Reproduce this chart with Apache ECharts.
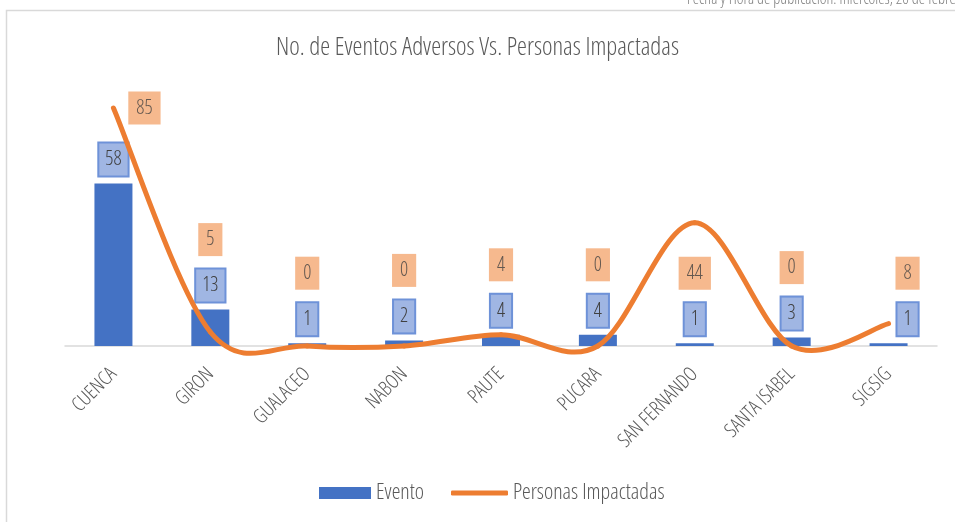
<!DOCTYPE html>
<html><head><meta charset="utf-8">
<script src="https://cdn.jsdelivr.net/npm/echarts@6/dist/echarts.min.js"></script>
<style>html,body{margin:0;padding:0;background:#fff}#c{width:955px;height:522px}</style>
</head><body><div id="c"></div>
<script>
var categories = ['CUENCA','GIRON','GUALACEO','NABON','PAUTE','PUCARA','SAN FERNANDO','SANTA ISABEL','SIGSIG'];
var eventos = [58, 13, 1, 2, 4, 4, 1, 3, 1];
var personas = [85, 5, 0, 0, 4, 0, 44, 0, 8];
var titleText = 'No. de Eventos Adversos Vs. Personas Impactadas';
var pubText = 'Fecha y Hora de publicación: miércoles, 26 de febrero';

var FONT = "'Open Sans',sans-serif";
var COND = 'condensed';
var yMax = 100, gridTop = 66, gridBottom = 176;
var k = (522 - gridTop - gridBottom) / yMax;
var n = personas.length;

var lblData = personas.map(function (v, i) {
  var dy = (v - eventos[i]) * k - 70;
  var dx = (i === n - 1) ? 19 : 0;
  var lab = Math.abs(dy) < 30 ? { offset: [31, 0] } : { offset: [dx, dy] };
  return { value: [i, v], label: lab };
});
var barData = eventos.map(function (v, i) {
  return { value: v, label: { offset: [(i === n - 1) ? 19 : 0, 0] } };
});

function renderCurve(params, api) {
  var i = params.dataIndex;
  if (i >= n - 1) return null;
  function P(j) { j = Math.max(0, Math.min(n - 1, j)); return api.coord([j, personas[j]]); }
  var p0 = P(i - 1), p1 = P(i), p2 = P(i + 1), p3 = P(i + 2);
  return {
    type: 'bezierCurve',
    shape: {
      x1: p1[0], y1: p1[1], x2: p2[0], y2: p2[1],
      cpx1: p1[0] + (p2[0] - p0[0]) / 6, cpy1: p1[1] + (p2[1] - p0[1]) / 6,
      cpx2: p2[0] - (p3[0] - p1[0]) / 6, cpy2: p2[1] - (p3[1] - p1[1]) / 6
    },
    style: { stroke: '#ED7D31', lineWidth: 5, fill: null, lineCap: 'round' }
  };
}

var chart = echarts.init(document.getElementById('c'), null, { renderer: 'canvas' });
chart.setOption({
  animation: false,
  textStyle: { fontFamily: FONT },
  title: {
    text: titleText, left: 'center', top: 30,
    textStyle: { fontFamily: FONT, fontStyle: COND, fontSize: 25, fontWeight: 300, color: '#595959' }
  },
  graphic: [
    { type: 'rect', shape: { x: 6.5, y: 10.5, width: 1200, height: 800 },
      style: { fill: 'none', stroke: '#d9d9d9', lineWidth: 1.5 }, silent: true },
    { type: 'text', left: 687, top: -9,
      style: { text: pubText, font: COND + ' 300 16px ' + FONT, fill: '#7f7f7f' } }
  ],
  grid: { left: 65, right: 18, top: gridTop, bottom: gridBottom },
  xAxis: {
    type: 'category', data: categories,
    axisLine: { lineStyle: { color: '#d9d9d9', width: 1.5 } },
    axisTick: { show: false },
    axisLabel: { rotate: 45, color: '#595959', fontSize: 20, fontStyle: COND, fontWeight: 300,
      margin: 25, fontFamily: FONT, interval: 0 }
  },
  yAxis: { type: 'value', min: 0, max: yMax, show: false, splitLine: { show: false } },
  legend: [
    { data: [{ name: 'Evento', icon: 'rect' }], left: 319, top: 482, padding: 0,
      itemWidth: 52, itemHeight: 12,
      textStyle: { fontFamily: FONT, fontStyle: COND, fontWeight: 300, fontSize: 22, color: '#595959' },
      selectedMode: false },
    { data: [{ name: 'Personas Impactadas', icon: 'roundRect' }],
      left: 451, top: 482, padding: 0, itemWidth: 57, itemHeight: 5,
      textStyle: { fontFamily: FONT, fontStyle: COND, fontWeight: 300, fontSize: 22, color: '#595959' },
      selectedMode: false }
  ],
  series: [
    {
      name: 'Evento', type: 'bar', data: barData, barWidth: 38,
      itemStyle: { color: '#4472C4' },
      label: {
        show: true, position: 'top', distance: 8,
        color: '#404040', fontSize: 20, fontStyle: COND, fontWeight: 300, fontFamily: FONT,
        backgroundColor: '#a0b6e3', borderColor: '#6e92d8', borderWidth: 2,
        padding: [6, 6, 6, 6]
      },
      z: 2
    },
    {
      name: 'Personas Impactadas', type: 'custom', renderItem: renderCurve,
      data: personas.map(function (v, i) { return [i, v]; }),
      encode: { x: 0, y: 1 }, itemStyle: { color: '#ED7D31' }, clip: false, z: 3
    },
    {
      name: 'lbl', type: 'scatter', data: lblData, symbolSize: 1,
      itemStyle: { color: 'rgba(0,0,0,0)' }, silent: true,
      label: {
        show: true, position: 'inside',
        formatter: function (p) { return p.value[1]; },
        color: '#404040', fontSize: 20, fontStyle: COND, fontWeight: 300, fontFamily: FONT,
        backgroundColor: '#f4a772', padding: [7, 8, 6, 8]
      },
      z: 4
    }
  ]
});
</script></body></html>
